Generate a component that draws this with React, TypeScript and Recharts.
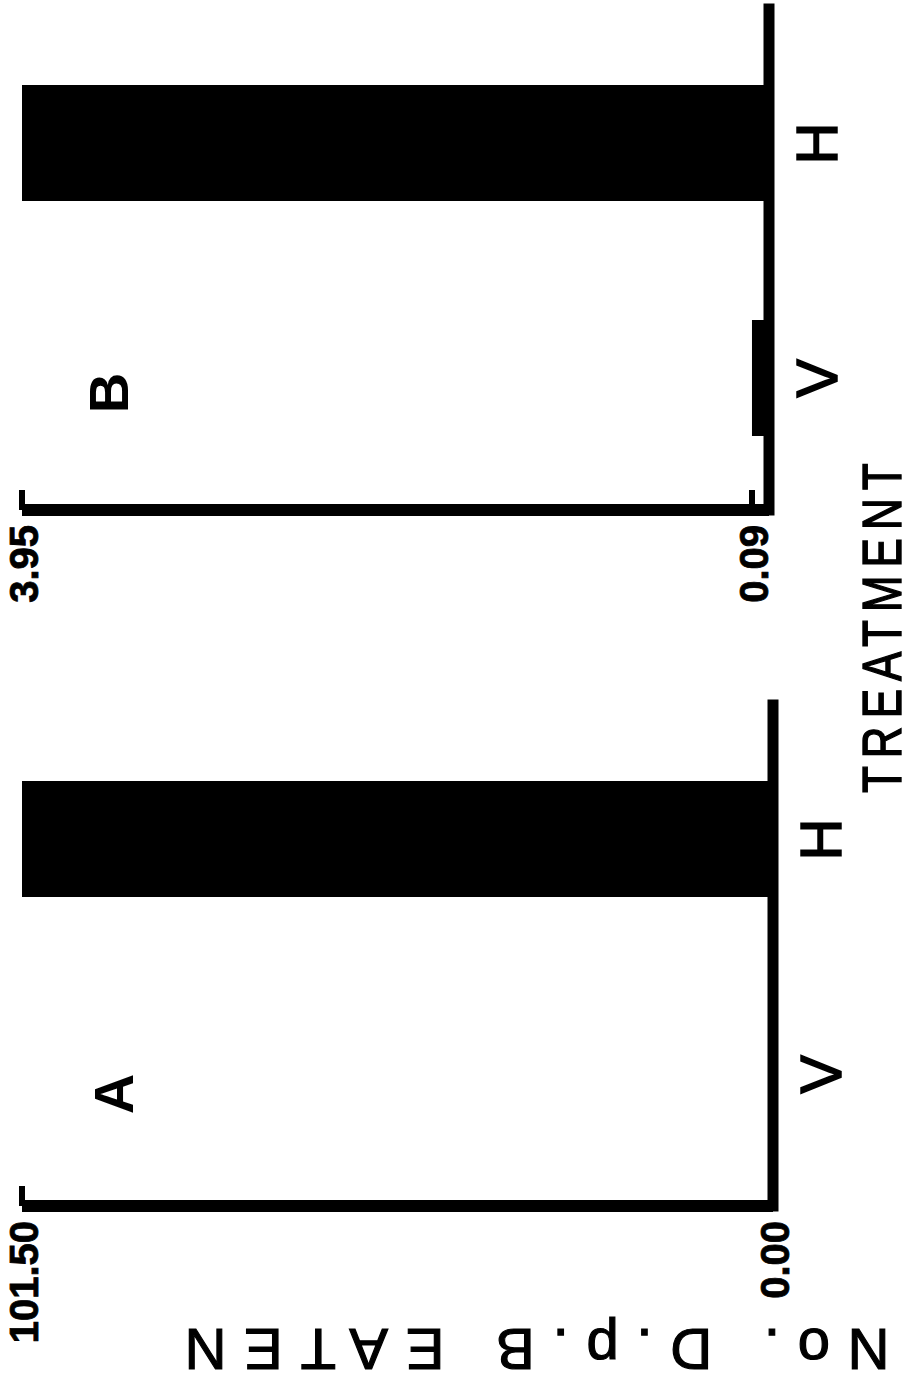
import React from "react";
import { BarChart, Bar, XAxis, YAxis } from "recharts";

// values (two panels, same treatments)
const treatments = ["V", "H"];
const eatenA = [0, 101.5];
const eatenB = [0.09, 3.95];
const ticksA = [0, 101.5];
const ticksB = [0.09, 3.95];
const panelLetters = ["A", "B"];
const xTitle = "TREATMENT";
const yTitle = "No. D.p.B EATEN";

// the figure is drawn upright, then turned a quarter turn like the scan
const W = 1383;
const H = 915;
const sans = "'Liberation Sans', Arial, sans-serif";

const dataA = treatments.map((t, i) => ({ treatment: t, eaten: eatenA[i] }));
const dataB = treatments.map((t, i) => ({ treatment: t, eaten: eatenB[i] }));

const YTick = ({ x, y, payload }: any) => (
  <g>
    <line x1={x} x2={x + 20} y1={y} y2={y} stroke="#000" strokeWidth={6} />
    <text
      x={x - 15}
      y={y + 2}
      textAnchor="end"
      dominantBaseline="central"
      fontFamily={sans}
      fontWeight="bold"
      fontSize={40}
      fill="#000"
      stroke="#000"
      strokeWidth={0.8}
    >
      {Number(payload.value).toFixed(2)}
    </text>
  </g>
);

const XTick = ({ x, y, payload }: any) => (
  <text
    x={x}
    y={y + 47}
    textAnchor="middle"
    dominantBaseline="central"
    fontFamily={sans}
    fontSize={58}
    fill="#000"
    stroke="#000"
    strokeWidth={1.5}
  >
    {payload.value}
  </text>
);

const axisLine = { stroke: "#000", strokeWidth: 11 };

const Panel = ({ data, ticks, yWidth, xHeight, right }: any) => (
  <BarChart
    width={yWidth + 501 + right}
    height={H}
    data={data}
    margin={{ top: 22, right, bottom: 0, left: 0 }}
  >
    <XAxis
      dataKey="treatment"
      height={xHeight}
      axisLine={{ ...axisLine, strokeLinecap: "square" }}
      tickLine={false}
      tickSize={0}
      tickMargin={0}
      tick={<XTick />}
      padding={{ left: 14, right: 17 }}
    />
    <YAxis
      type="number"
      width={yWidth}
      domain={[0, ticks[1]]}
      ticks={ticks}
      interval={0}
      axisLine={{ ...axisLine, strokeWidth: 12 }}
      tickLine={false}
      tickSize={0}
      tickMargin={0}
      tick={<YTick />}
    />
    <Bar dataKey="eaten" fill="#000" barSize={116} isAnimationActive={false} />
  </BarChart>
);

export default function App() {
  return (
    <div
      style={{
        position: "absolute",
        left: 0,
        top: 0,
        width: 915,
        height: 1383,
        background: "#fff",
        overflow: "hidden",
      }}
    >
      <div
        style={{
          position: "absolute",
          left: 0,
          top: 0,
          width: W,
          height: H,
          transformOrigin: "0 0",
          transform: `translate(0px, ${W}px) rotate(-90deg)`,
        }}
      >
        <div style={{ position: "absolute", left: 0, top: 0 }}>
          <Panel data={dataA} ticks={ticksA} yWidth={177} xHeight={142} right={22} />
        </div>
        <div style={{ position: "absolute", left: 700, top: 0 }}>
          <Panel data={dataB} ticks={ticksB} yWidth={173} xHeight={146} right={9} />
        </div>
        <svg
          width={W}
          height={H}
          style={{ position: "absolute", left: 0, top: 0, pointerEvents: "none" }}
        >
          <text x={289} y={113} textAnchor="middle" dominantBaseline="central"
            fontFamily={sans} fontWeight="bold" fontSize={56} fill="#000">
            {panelLetters[0]}
          </text>
          <text x={990} y={108} textAnchor="middle" dominantBaseline="central"
            fontFamily={sans} fontWeight="bold" fontSize={56} fill="#000">
            {panelLetters[1]}
          </text>
          <g transform="translate(590, 901) scale(0.8, 1)">
            <text x={0} y={0} textLength={412} lengthAdjust="spacing"
              fontFamily={sans} fontSize={55} fill="#000" stroke="#000" strokeWidth={1.4}>
              {xTitle}
            </text>
          </g>
          <text x={34} y={537} transform="rotate(-90, 34, 537)" textAnchor="middle"
            dominantBaseline="central" textLength={705} lengthAdjust="spacing"
            fontFamily={sans} fontSize={58} fill="#000" stroke="#000" strokeWidth={1.2}>
            {yTitle}
          </text>
        </svg>
      </div>
    </div>
  );
}
